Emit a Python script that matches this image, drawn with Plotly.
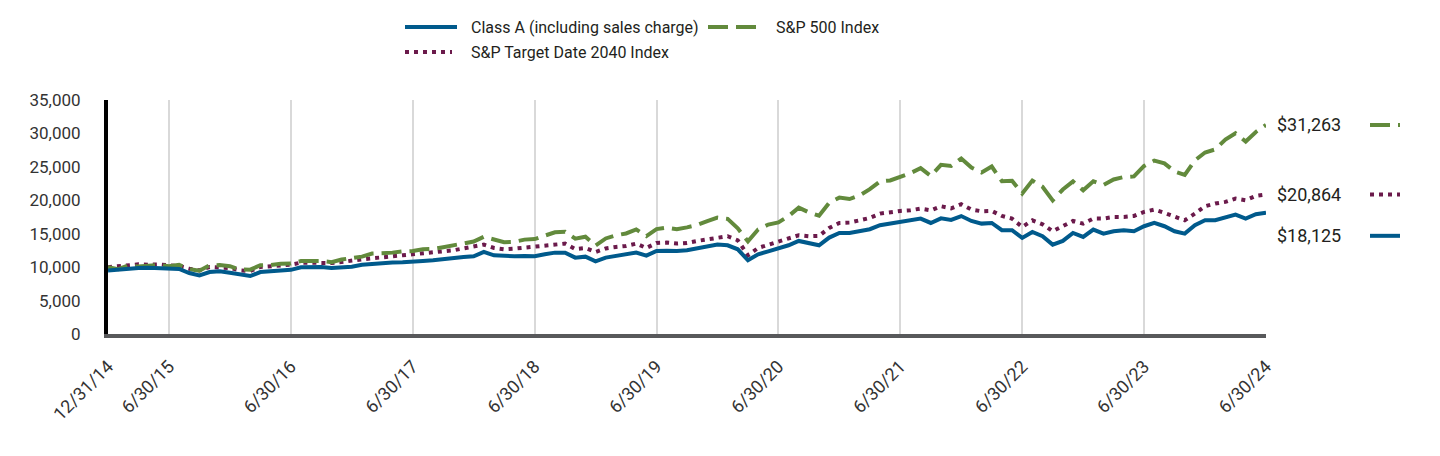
import pandas as pd
import plotly.graph_objects as go

# ---------------- data (growth of $10,000, month-end values) ----------------
month_ends = pd.date_range("2014-12-31", periods=115, freq="ME")
categories = [f"{d.month}/{d.day}/{d.year % 100:02d}" for d in month_ends]

class_a = [9500, 9650, 9850, 9870, 9920, 9870, 9770, 9720, 9120, 8770, 9270, 9370, 9150,
           8870, 8670, 9270, 9370, 9420, 9600, 9970, 10020, 10020, 9870, 9920, 10070,
           10370, 10520, 10600, 10700, 10750, 10770, 10920, 11020, 11220, 11370, 11520, 11620,
           12270, 11770, 11620, 11620, 11670, 11620, 11920, 12170, 12170, 11420, 11570, 10870,
           11420, 11670, 11870, 12170, 11720, 12420, 12450, 12400, 12520, 12770, 13020, 13370,
           13270, 12670, 11020, 11920, 12370, 12770, 13270, 13920, 13520, 13270, 14420, 15120,
           15120, 15370, 15670, 16270, 16510, 16760, 16910, 17260, 16610, 17300, 17060, 17640,
           16910, 16510, 16610, 15520, 15520, 14370, 15270, 14620, 13370, 13920, 15120, 14520,
           15620, 15020, 15370, 15520, 15370, 16120, 16610, 16120, 15370, 15020, 16270, 17010,
           17010, 17410, 17860, 17260, 17910, 18125]

sp500 = [10000, 9700, 10258, 10096, 10193, 10324, 10124, 10337, 9714, 9474, 10274, 10305, 10142,
         9639, 9626, 10279, 10319, 10505, 10532, 10921, 10936, 10938, 10739, 11136, 11357,
         11573, 12032, 12047, 12171, 12343, 12419, 12675, 12714, 12976, 13278, 13686, 13838,
         14550, 14091, 13733, 13785, 14117, 14205, 14733, 15213, 15300, 14253, 14544, 13231,
         14291, 14750, 15036, 15645, 14652, 15685, 15911, 15660, 15953, 16299, 16891, 17401,
         17220, 15802, 13851, 15627, 16371, 16696, 17638, 18906, 18187, 17703, 19642, 20396,
         20190, 20747, 21656, 22813, 22972, 23508, 24067, 24799, 23645, 25302, 25128, 26254,
         24897, 24152, 25048, 22864, 22906, 21016, 22953, 22017, 19989, 21609, 22817, 21502,
         22852, 22295, 23113, 23473, 23574, 25132, 25939, 25526, 24309, 23800, 25973, 27152,
         27608, 29082, 30019, 28794, 30223, 31263]

target_2040 = [10000, 10150, 10370, 10420, 10370, 10420, 10270, 10170, 9770, 9520, 10020, 10020, 9870,
               9520, 9420, 10020, 10170, 10270, 10370, 10670, 10670, 10720, 10620, 10770, 11020,
               11170, 11320, 11420, 11560, 11770, 11920, 12020, 12170, 12370, 12520, 12770, 13020,
               13370, 12870, 12670, 12770, 12920, 13020, 13270, 13420, 13520, 12700, 12850, 12270,
               12800, 13020, 13170, 13520, 12870, 13620, 13670, 13520, 13620, 13920, 14170, 14520,
               14620, 14020, 11770, 12870, 13370, 13770, 14270, 14770, 14620, 14670, 15860, 16610,
               16660, 17010, 17360, 18010, 18260, 18410, 18510, 18760, 18500, 19110, 18800, 19410,
               18610, 18360, 18410, 17660, 17260, 16010, 17010, 16410, 15370, 16100, 16910, 16510,
               17260, 17260, 17510, 17510, 17660, 18260, 18610, 18110, 17610, 17010, 18010, 19110,
               19510, 19760, 20260, 20010, 20660, 20864]

tick_labels = ["12/31/14", "6/30/15", "6/30/16", "6/30/17", "6/30/18", "6/30/19",
               "6/30/20", "6/30/21", "6/30/22", "6/30/23", "6/30/24"]
y_ticks = [0, 5000, 10000, 15000, 20000, 25000, 30000, 35000]

series_names = ["Class A (including sales charge)", "S&P 500 Index", "S&P Target Date 2040 Index"]
end_labels = ["$18,125", "$31,263", "$20,864"]

# ---------------- styling ----------------
BLUE = "#005A8C"
GREEN = "#628A3C"
PURPLE = "#6B1A4B"
TEXT = "#231F20"
TICK = "#333333"
FONT = "Roboto"
GREEN_DASH = "20px,8px"
PURPLE_DASH = "4px,5px"

OFF = 8                      # default page body margin
W, H = 1440 - 2 * OFF, 456 - 2 * OFF
PLOT_L, PLOT_R, PLOT_T, PLOT_B = 108, 1266, 100, 334   # page pixels
ML, MT = PLOT_L - OFF, PLOT_T - OFF
MR, MB = W - (PLOT_R - OFF), H - (PLOT_B - OFF)
PW, PH = PLOT_R - PLOT_L, PLOT_B - PLOT_T


def px_x(px):
    return (px - PLOT_L) / PW


def px_y(py):
    return (PLOT_B - py) / PH


fig = go.Figure()
fig.add_trace(go.Scatter(x=categories, y=target_2040, mode="lines", name=series_names[2],
                         line=dict(color=PURPLE, width=4, dash=PURPLE_DASH)))
fig.add_trace(go.Scatter(x=categories, y=sp500, mode="lines", name=series_names[1],
                         line=dict(color=GREEN, width=4, dash=GREEN_DASH)))
fig.add_trace(go.Scatter(x=categories, y=class_a, mode="lines", name=series_names[0],
                         line=dict(color=BLUE, width=4)))

shapes = []
annotations = []

# manual legend (top)
legend_items = [
    (series_names[0], BLUE, "solid", 405, 457, 469, 27),
    (series_names[1], GREEN, GREEN_DASH, 708, 764, 774, 27),
    (series_names[2], PURPLE, PURPLE_DASH, 405, 452, 469, 52),
]
for name, col, dash, x0, x1, tx, ty in legend_items:
    shapes.append(dict(type="line", xref="paper", yref="paper",
                       x0=px_x(x0), x1=px_x(x1), y0=px_y(ty), y1=px_y(ty),
                       line=dict(color=col, width=4, dash=dash)))
    annotations.append(dict(text=name, xref="paper", yref="paper", x=px_x(tx), y=px_y(ty),
                            xanchor="left", yanchor="middle", showarrow=False,
                            font=dict(family=FONT, size=16, color=TEXT)))

# end-value labels on the right
end_items = [
    (end_labels[1], sp500[-1], GREEN, GREEN_DASH, 0),
    (end_labels[2], target_2040[-1], PURPLE, PURPLE_DASH, 0),
    (end_labels[0], class_a[-1], BLUE, "solid", -23),
]
for label, val, col, dash, shift in end_items:
    annotations.append(dict(text=label, xref="paper", yref="y", x=px_x(1275), y=val,
                            yshift=shift, xanchor="left", yanchor="middle", showarrow=False,
                            font=dict(family=FONT, size=18, color=TEXT)))
    shapes.append(dict(type="line", xref="paper", yref="y", ysizemode="pixel", yanchor=val,
                       x0=px_x(1370), x1=px_x(1400), y0=shift, y1=shift,
                       line=dict(color=col, width=4, dash=dash)))

fig.update_layout(
    width=W, height=H,
    margin=dict(l=ML, r=MR, t=MT, b=MB, pad=0),
    paper_bgcolor="white", plot_bgcolor="white",
    showlegend=False,
    font=dict(family=FONT, size=16, color=TEXT),
    shapes=shapes,
    annotations=annotations,
)
fig.update_xaxes(
    type="category",
    range=[0, len(categories) - 1],
    tickmode="array", tickvals=tick_labels, ticktext=tick_labels,
    tickangle=-45, ticks="",
    showgrid=True, gridcolor="#D9D9D9", gridwidth=2,
    showline=True, linecolor="#58595B", linewidth=4,
    ticklabelstandoff=11,
    tickfont=dict(family=FONT, size=18, color=TICK),
    zeroline=False,
)
fig.update_yaxes(
    range=[0, 35000],
    tickmode="array", tickvals=y_ticks, tickformat=",d",
    ticks="", showgrid=False, zeroline=False,
    showline=True, linecolor="#000000", linewidth=4,
    ticklabelstandoff=20,
    tickfont=dict(family=FONT, size=17, color=TICK),
)

fig.write_html("out.html")
